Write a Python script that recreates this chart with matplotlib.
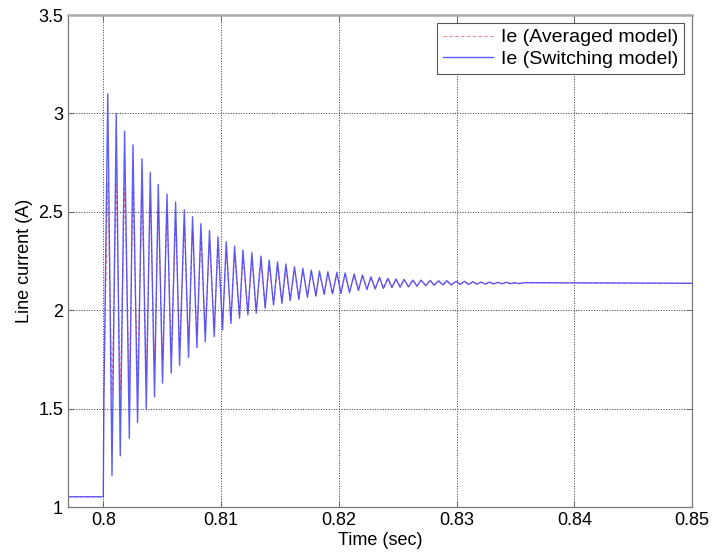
import numpy as np
import matplotlib
matplotlib.use("Agg")
import matplotlib.pyplot as plt

plt.rcParams['font.family'] = ['Liberation Sans', 'DejaVu Sans']

# level before the step and final settled level
i_before = 1.052
i_final = 2.137
t_start, t_step, t_end = 0.797, 0.8, 0.85

# switching model: local maxima / minima of the line current
sw_peak_t = [0.80038, 0.80110, 0.80181, 0.80252, 0.80329, 0.80399, 0.80467, 0.80541,
             0.80614, 0.80688, 0.80758, 0.80829, 0.80902, 0.80974, 0.81044, 0.81115,
             0.81186, 0.81262, 0.81339, 0.81409, 0.81480, 0.81551, 0.81624, 0.81695,
             0.81766, 0.81836, 0.81907, 0.81984, 0.82054, 0.82131, 0.82201, 0.82273,
             0.82346, 0.82417, 0.82487, 0.82555, 0.82629, 0.82699, 0.82776, 0.82846,
             0.82918, 0.82997, 0.83067, 0.83138, 0.83209, 0.83279, 0.83356, 0.83427,
             0.83497, 0.83568]
sw_peak = [3.10, 3.00, 2.91, 2.84, 2.77, 2.70, 2.64, 2.59, 2.55, 2.51, 2.475, 2.44,
           2.405, 2.373, 2.348, 2.326, 2.306, 2.292, 2.275, 2.255, 2.246, 2.235, 2.221,
           2.213, 2.204, 2.199, 2.196, 2.193, 2.19, 2.184, 2.179, 2.17, 2.167, 2.162,
           2.159, 2.157, 2.153, 2.153, 2.152, 2.15, 2.15, 2.147, 2.147, 2.145, 2.143,
           2.143, 2.142, 2.142, 2.14, 2.14]
sw_min_t = [0.80074, 0.80144, 0.80221, 0.80291, 0.80365, 0.80435, 0.80503, 0.80577,
            0.80648, 0.80724, 0.80795, 0.80866, 0.80942, 0.81013, 0.81084, 0.81157,
            0.81228, 0.81299, 0.81375, 0.81446, 0.81517, 0.81587, 0.81661, 0.81734,
            0.81806, 0.81876, 0.81947, 0.82018, 0.82091, 0.82167, 0.82239, 0.82309,
            0.82379, 0.82451, 0.82521, 0.82592, 0.82663, 0.82739, 0.82810, 0.82884,
            0.82954, 0.83031, 0.83102, 0.83172, 0.83243, 0.83313, 0.83382, 0.83455,
            0.83526]
sw_min = [1.16, 1.26, 1.35, 1.43, 1.50, 1.56, 1.63, 1.68, 1.72, 1.76, 1.81, 1.84,
          1.865, 1.90, 1.933, 1.959, 1.976, 1.985, 2.01, 2.026, 2.035, 2.05, 2.055,
          2.066, 2.072, 2.08, 2.083, 2.086, 2.09, 2.10, 2.106, 2.108, 2.111, 2.116,
          2.117, 2.119, 2.123, 2.125, 2.127, 2.129, 2.129, 2.131, 2.131, 2.133, 2.133,
          2.134, 2.134, 2.135, 2.135]

# averaged model: extrema at the same instants, smaller swing
av_peak = [2.65, 2.65, 2.62, 2.60, 2.58, 2.55, 2.52, 2.49, 2.46, 2.43, 2.40, 2.37,
           2.35, 2.32, 2.30, 2.28, 2.26, 2.25, 2.235, 2.225, 2.215, 2.205, 2.20, 2.195,
           2.19, 2.186, 2.183, 2.18, 2.178, 2.175, 2.172, 2.168, 2.165, 2.16, 2.158,
           2.156, 2.153, 2.152, 2.151, 2.15, 2.149, 2.147, 2.146, 2.145, 2.143, 2.142,
           2.142, 2.141, 2.14, 2.14]
av_min = [1.57, 1.59, 1.62, 1.66, 1.69, 1.72, 1.75, 1.78, 1.81, 1.84, 1.87, 1.89,
          1.91, 1.93, 1.95, 1.97, 1.99, 2.00, 2.015, 2.03, 2.04, 2.05, 2.06, 2.068,
          2.075, 2.08, 2.085, 2.09, 2.095, 2.10, 2.105, 2.108, 2.111, 2.115, 2.117,
          2.119, 2.122, 2.124, 2.126, 2.128, 2.129, 2.13, 2.131, 2.132, 2.133, 2.134,
          2.134, 2.135, 2.135]


def trace(peak_t, peak_v, min_t, min_v):
    # step, then alternate max/min, then hold the final level
    t = [t_start, t_step, t_step + 0.00005]
    v = [i_before, i_before, 1.55]
    for k in range(len(peak_t)):
        t.append(peak_t[k]); v.append(peak_v[k])
        if k < len(min_t):
            t.append(min_t[k]); v.append(min_v[k])
    t.append(t_end); v.append(i_final)
    return np.array(t), np.array(v)


t_sw, i_sw = trace(sw_peak_t, sw_peak, sw_min_t, sw_min)
t_av, i_av = trace(sw_peak_t, av_peak, sw_min_t, av_min)

fig = plt.figure(figsize=(7.14, 5.59), dpi=100)
ax = fig.add_axes([0.0952, 0.093, 0.8740, 0.880])

ax.plot(t_av, i_av, color='#ff4040', ls='--', lw=0.6, dashes=(4, 3), alpha=0.8,
        label='Ie (Averaged model)')
ax.plot(t_sw, i_sw, color='#4040ff', lw=1.0, alpha=0.85,
        label='Ie (Switching model)')

ax.set_xlim(t_start, t_end)
ax.set_ylim(1, 3.5)
ax.set_xticks([0.8, 0.81, 0.82, 0.83, 0.84, 0.85])
ax.set_xticklabels(['0.8', '0.81', '0.82', '0.83', '0.84', '0.85'])
ax.set_yticks([1, 1.5, 2, 2.5, 3, 3.5])
ax.set_yticklabels(['1', '1.5', '2', '2.5', '3', '3.5'])

ax.grid(True, color='#333333', ls=':', lw=0.7)
ax.tick_params(direction='in', top=True, right=True, labelsize=13,
               length=4, width=0.6, colors='#555555', labelcolor='black')
for s in ax.spines.values():
    s.set_color('#777777')
    s.set_linewidth(0.9)
ax.spines['top'].set_color('#aaaaaa')
ax.spines['top'].set_linewidth(1.8)

ax.set_xlabel('Time (sec)', fontsize=13, labelpad=2)
ax.set_ylabel('Line current (A)', fontsize=13, labelpad=4)

leg = ax.legend(loc='upper right', fontsize=14, fancybox=False, framealpha=1,
                edgecolor='#555555', borderpad=0.3, handlelength=2.6,
                handletextpad=0.4, labelspacing=0.2, borderaxespad=0.4)
leg.get_frame().set_linewidth(0.8)

fig.savefig('out.png', dpi=100)
